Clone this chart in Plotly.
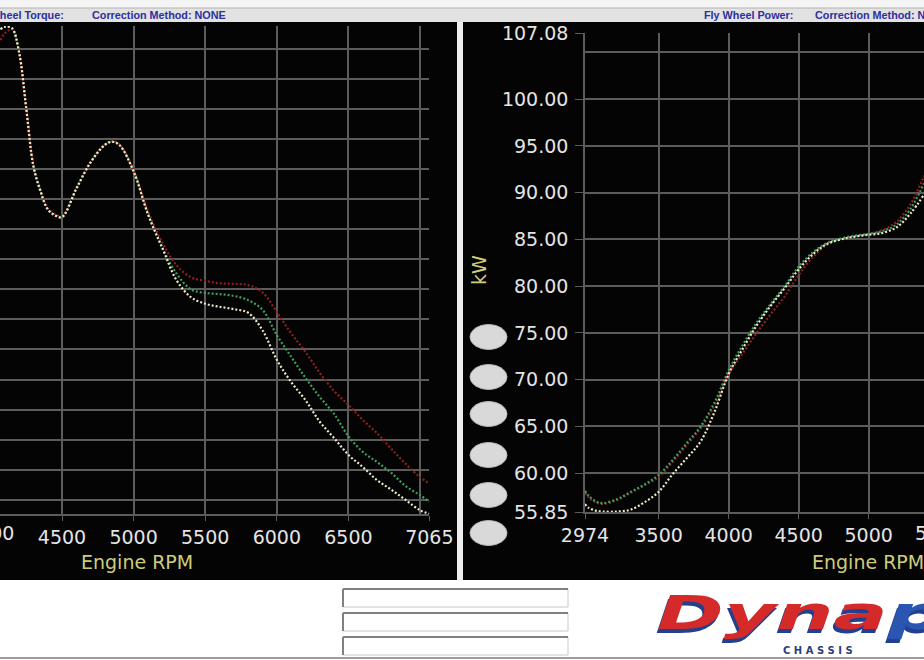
import plotly.graph_objects as go

W, H = 924, 660


def fx(px):
    return px / W


def fy(py):
    return 1 - py / H


# ---------------- data ----------------
# Left panel: fly wheel torque (Nm) vs engine rpm
torque_rpm = [4070, 4100, 4150, 4200, 4250, 4300, 4350, 4400, 4450, 4500,
              4600, 4700, 4800, 4850, 4900, 5000, 5100, 5200, 5300, 5400,
              5500, 5600, 5700, 5800, 5900, 6000, 6100, 6200, 6300, 6400,
              6500, 6600, 6700, 6800, 6900, 7000, 7065]
torque_red = [196.4, 197.5, 198.2, 194.4, 185.3, 175.8, 171.5, 168.5, 167.5, 167.2,
              171.8, 176.2, 179.1, 179.6, 179.1, 174.8, 168.0, 162.8, 159.0, 157.0,
              156.4, 156.0, 155.9, 155.7, 154.5, 151.2, 147.7, 144.6, 141.1, 138.1,
              135.8, 133.3, 131.1, 128.5, 126.0, 123.8, 122.7]
torque_green = [198.2, 198.6, 198.4, 194.4, 185.1, 175.5, 171.3, 168.3, 167.3, 167.0,
                171.7, 176.1, 179.0, 179.5, 179.0, 174.6, 167.5, 161.9, 157.6, 155.0,
                154.4, 154.2, 153.9, 153.2, 151.6, 147.4, 143.8, 140.3, 137.1, 134.3,
                130.6, 128.0, 126.3, 124.5, 122.3, 120.8, 119.7]
torque_white = [198.2, 198.6, 198.4, 194.4, 185.1, 175.5, 171.3, 168.3, 167.3, 167.0,
                171.7, 176.1, 179.0, 179.5, 179.0, 174.6, 167.5, 161.9, 156.5, 153.7,
                152.6, 152.1, 151.7, 151.1, 148.2, 143.3, 139.6, 136.6, 133.0, 130.3,
                127.5, 125.5, 123.3, 121.7, 120.0, 118.3, 117.7]

# Right panel: fly wheel power (kW) vs engine rpm
power_rpm = [2974, 3000, 3050, 3100, 3200, 3300, 3400, 3500, 3600, 3700,
             3800, 3900, 4000, 4100, 4200, 4300, 4400, 4500, 4600, 4700,
             4800, 4900, 5000, 5100, 5200, 5300, 5395]
power_red = [57.9, 57.4, 56.9, 56.7, 57.1, 57.9, 58.7, 59.6, 61.2, 63.0,
             64.8, 67.3, 70.6, 72.8, 75.0, 77.0, 78.9, 81.2, 83.1, 84.4,
             85.0, 85.3, 85.6, 86.0, 86.9, 88.8, 91.8]
power_green = [58.1, 57.6, 57.0, 56.8, 57.2, 58.0, 58.8, 59.8, 61.4, 63.2,
               65.0, 67.6, 71.0, 73.7, 76.1, 78.1, 80.0, 82.1, 83.6, 84.6,
               85.1, 85.4, 85.6, 85.9, 86.6, 88.3, 91.0]
power_white = [56.7, 56.3, 56.0, 55.9, 55.9, 56.1, 56.9, 58.0, 59.9, 61.6,
               63.4, 66.6, 70.6, 73.3, 75.8, 77.9, 79.8, 81.8, 83.4, 84.5,
               85.0, 85.3, 85.5, 85.7, 86.3, 87.8, 89.8]

left_xticks = [4500, 5000, 5500, 6000, 6500, 7065]
left_xgrid = [4500, 5000, 5500, 6000, 6500, 7000, 7065]
right_xticks = [2974, 3500, 4000, 4500, 5000]
right_xgrid = [3500, 4000, 4500, 5000, 5500]
right_yticks = [55.85, 60, 65, 70, 75, 80, 85, 90, 95, 100, 107.08]
right_ytext = ["55.85", "60.00", "65.00", "70.00", "75.00", "80.00", "85.00",
               "90.00", "95.00", "100.00", "107.08"]
right_ygrid = [60, 65, 70, 75, 80, 85, 90, 95, 100, 105]

# ---------------- styling ----------------
GRID = "#5c5c5c"
RED_C = "#8e2020"
GREEN_C = "#3f9c5f"
WHITE_C = "#ebe8c6"
TICK_FONT = dict(family="DejaVu Sans", size=19, color="#e4e4e4")
LABEL_C = "#cdcd7c"
NAVY = "#2b2fa0"

fig = go.Figure()

for ys, c in [(torque_red, RED_C), (torque_green, GREEN_C), (torque_white, WHITE_C)]:
    fig.add_trace(go.Scatter(x=torque_rpm, y=ys, mode="lines", xaxis="x", yaxis="y",
                             line=dict(color=c, width=2.2, dash="2px,2px", shape="spline"),
                             showlegend=False, hoverinfo="skip"))
for ys, c in [(power_red, RED_C), (power_green, GREEN_C), (power_white, WHITE_C)]:
    fig.add_trace(go.Scatter(x=power_rpm, y=ys, mode="lines", xaxis="x2", yaxis="y2",
                             line=dict(color=c, width=2.2, dash="2px,2px", shape="spline"),
                             showlegend=False, hoverinfo="skip"))

axis_common = dict(zeroline=False, showgrid=False, tickfont=TICK_FONT,
                   linecolor=GRID, linewidth=1.6, tickcolor=GRID, automargin=False)

fig.update_layout(
    width=W, height=H,
    margin=dict(l=0, r=0, t=0, b=0, autoexpand=False),
    paper_bgcolor="white",
    plot_bgcolor="black",
    xaxis=dict(domain=[0, fx(429.3)], range=[4067, 7065], anchor="y",
               tickmode="array", tickvals=left_xticks,
               ticktext=[str(v) for v in left_xticks],
               ticks="outside", ticklen=5, showline=True,
               minor=dict(tickmode="array", tickvals=left_xgrid, showgrid=True,
                          gridcolor=GRID, gridwidth=1.6, ticks=""),
               **axis_common),
    yaxis=dict(domain=[fy(514), fy(26)], range=[117.67, 198.74], anchor="x",
               showticklabels=False, ticks="", showline=False, automargin=False,
               zeroline=False, showgrid=True, tick0=120, dtick=5,
               gridcolor=GRID, gridwidth=1.6),
    xaxis2=dict(domain=[fx(585), 1], range=[2974, 5395], anchor="y2",
                tickmode="array", tickvals=right_xticks,
                ticktext=[str(v) for v in right_xticks],
                ticks="outside", ticklen=5, showline=True,
                minor=dict(tickmode="array", tickvals=right_xgrid, showgrid=True,
                           gridcolor=GRID, gridwidth=1.6, ticks=""),
                **axis_common),
    yaxis2=dict(domain=[fy(512), fy(33)], range=[55.85, 107.08], anchor="x2",
                tickmode="array", tickvals=right_yticks, ticktext=right_ytext,
                ticks="outside", ticklen=8, showline=True, ticklabelstandoff=3,
                minor=dict(tickmode="array", tickvals=right_ygrid, showgrid=True,
                           gridcolor=GRID, gridwidth=1.6, ticks=""),
                **axis_common),
)

shapes = []


def rect(x0, y0, x1, y1, fill, line=None, lw=0, layer="below"):
    shapes.append(dict(type="rect", xref="paper", yref="paper",
                       x0=fx(x0), x1=fx(x1), y0=fy(y1), y1=fy(y0),
                       fillcolor=fill, line=dict(color=line or fill, width=lw),
                       layer=layer))


def hline(x0, x1, y, color, w=1, layer="above"):
    shapes.append(dict(type="line", xref="paper", yref="paper",
                       x0=fx(x0), x1=fx(x1), y0=fy(y), y1=fy(y),
                       line=dict(color=color, width=w), layer=layer))


def vline(x, y0, y1, color, w=1, layer="above"):
    shapes.append(dict(type="line", xref="paper", yref="paper",
                       x0=fx(x), x1=fx(x), y0=fy(y0), y1=fy(y1),
                       line=dict(color=color, width=w), layer=layer))


# header strip
rect(0, 0, 924, 8, "#f4f4f4")
rect(0, 8, 924, 22, "#e2e2e2")
hline(0, 924, 8, "#b4b4b4", 1)
# black panels
rect(0, 22, 457, 580, "#040404")
rect(463, 22, 924, 580, "#040404")
rect(457, 22, 463, 580, "#eeeeee")
# bottom area
hline(0, 924, 658, "#9c9c9c", 2)

# input boxes
for y0 in [589, 613, 637]:
    rect(343, y0, 568, y0 + 18, "white", "#c8c8c8", 1, layer="above")
    hline(343, 568, y0, "#808080", 2)
    vline(343, y0, y0 + 18, "#808080", 2)

# grey buttons
for cy in [337, 377, 414, 455, 495, 533]:
    shapes.append(dict(type="circle", xref="paper", yref="paper",
                       x0=fx(470), x1=fx(507), y0=fy(cy + 12.5), y1=fy(cy - 12.5),
                       fillcolor="#d9d9d9", line=dict(color="#bdbdbd", width=1),
                       layer="above"))

fig.update_layout(shapes=shapes)

ann = []


def text(x, y, s, size, color, xanchor="center", yanchor="middle", family="DejaVu Sans",
         bold=False, italic=False, angle=0):
    f = dict(family=family, size=size, color=color)
    if bold:
        f["weight"] = "bold"
    if italic:
        f["style"] = "italic"
    ann.append(dict(xref="paper", yref="paper", x=fx(x), y=fy(y), text=s,
                    showarrow=False, xanchor=xanchor, yanchor=yanchor, font=f,
                    textangle=angle))


hdr = "Liberation Sans"
text(66, 15, "Fly Wheel Torque:", 10.8, NAVY, "right", family=hdr, bold=True)
text(90, 15, "Correction Method: NONE", 10.8, NAVY, "left", family=hdr, bold=True)
text(702, 15, "Fly Wheel Power:", 10.8, NAVY, "left", family=hdr, bold=True)
text(813, 15, "Correction Method: NONE", 10.8, NAVY, "left", family=hdr, bold=True)

# partially visible tick labels at the cropped edges
text(-9.6, 533, "4000", 19, "#e4e4e4")
text(938.6, 533, "5500", 19, "#e4e4e4")

text(137, 562, "Engine RPM", 19, LABEL_C)
text(868, 562, "Engine RPM", 19, LABEL_C)
text(479, 270, "kW", 19, LABEL_C, angle=-90)

# logo (stretched horizontally by the post script, like the original artwork)
text(653, 617, "Dynapack", 46, "#23408e", "left", bold=True, italic=True)
text(655, 613, "<span style='color:#d42a2a'>Dyna</span><span style='color:#2a55b0'>pack</span>",
     46, "#d42a2a", "left", bold=True, italic=True)
text(818, 650, "C H A S S I S", 10, "#2a3f7a", bold=True)

fig.update_layout(annotations=ann)

post = """
document.body.style.margin='0';
document.querySelectorAll('.annotation-text').forEach(function(t){
  if((t.textContent||'').indexOf('Dynapack')===0){
    t.style.transformBox='fill-box';
    t.style.transformOrigin='0% 50%';
    t.style.transform='scaleX(1.75)';
  }
});
"""

fig.write_html("out.html", post_script=post, config={"displayModeBar": False})
